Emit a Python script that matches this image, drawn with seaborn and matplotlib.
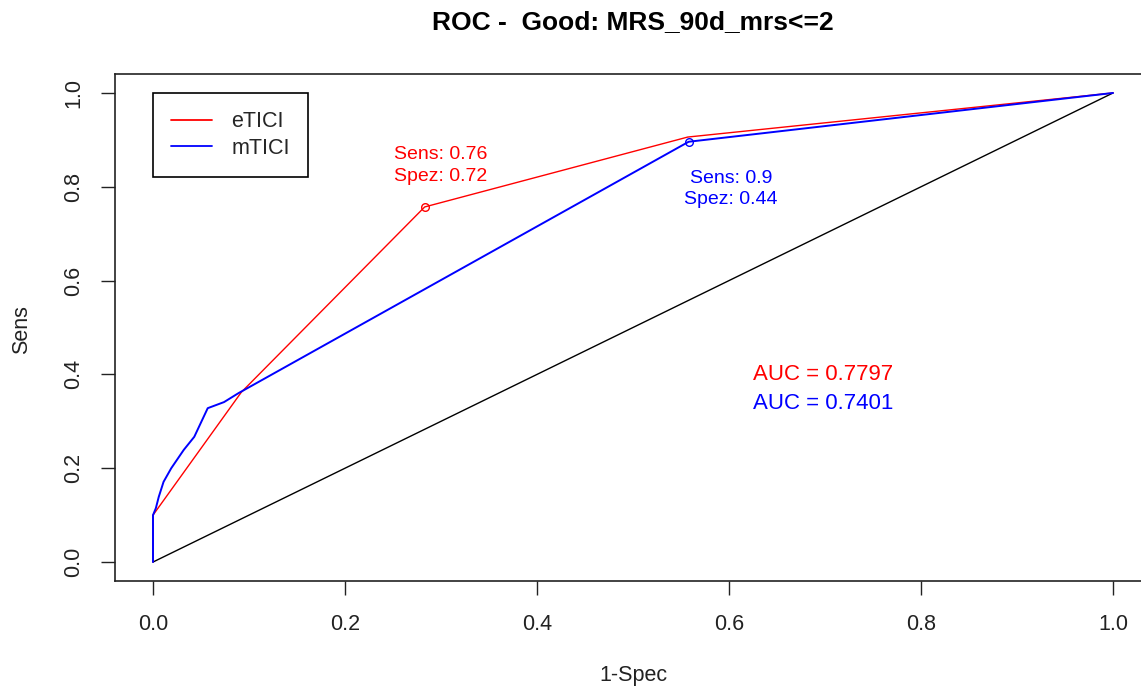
import matplotlib
matplotlib.use("Agg")
import matplotlib.pyplot as plt
import seaborn as sns
import pandas as pd

# ---- data ----
etici_fpr = [0.0, 0.0, 0.092, 0.283, 0.557, 1.0]
etici_tpr = [0.0, 0.1, 0.362, 0.757, 0.906, 1.0]
mtici_fpr = [0.0, 0.0, 0.003, 0.006, 0.011, 0.019, 0.032, 0.043, 0.057, 0.074, 0.089, 0.558, 1.0]
mtici_tpr = [0.0, 0.1, 0.115, 0.139, 0.171, 0.200, 0.239, 0.267, 0.328, 0.341, 0.360, 0.896, 1.0]
chance_x = [0.0, 1.0]
chance_y = [0.0, 1.0]
best_fpr = [0.283, 0.558]
best_tpr = [0.757, 0.896]
best_labels = ["Sens: 0.76\nSpez: 0.72", "Sens: 0.9\nSpez: 0.44"]
auc_labels = ["AUC = 0.7797", "AUC = 0.7401"]
series_names = ["eTICI", "mTICI"]
title = "ROC -  Good: MRS_90d_mrs<=2"
xticks = [0.0, 0.2, 0.4, 0.6, 0.8, 1.0]
yticks = [0.0, 0.2, 0.4, 0.6, 0.8, 1.0]

sns.set_style("ticks")
plt.rcParams["font.family"] = ["Liberation Sans", "DejaVu Sans"]

W, H = 1141, 691
fig = plt.figure(figsize=(W / 100, H / 100), dpi=100)
# axes frame in pixels: x from 114.6 to 1151.4, y from 74.2 to 580.8
ax = fig.add_axes([114.6 / W, (H - 580.8) / H, 1036.8 / W, 506.6 / H])

df_e = pd.DataFrame({"fpr": etici_fpr, "tpr": etici_tpr})
df_m = pd.DataFrame({"fpr": mtici_fpr, "tpr": mtici_tpr})
df_c = pd.DataFrame({"fpr": chance_x, "tpr": chance_y})

sns.lineplot(data=df_c, x="fpr", y="tpr", sort=False, estimator=None, color="black",
             linewidth=1.0, ax=ax, legend=False)
sns.lineplot(data=df_e, x="fpr", y="tpr", sort=False, estimator=None, color="#FF0000",
             linewidth=1.0, ax=ax, label=series_names[0])
sns.lineplot(data=df_m, x="fpr", y="tpr", sort=False, estimator=None, color="#0000FF",
             linewidth=1.4, ax=ax, label=series_names[1])

colors = ["#FF0000", "#0000FF"]
for i in range(2):
    ax.plot([best_fpr[i]], [best_tpr[i]], marker="o", markersize=5.5, markerfacecolor="none",
            markeredgecolor=colors[i], markeredgewidth=1.0, linestyle="none")

ax.text(0.300, 0.845, best_labels[0], color=colors[0], fontsize=14, ha="center", va="center",
        linespacing=1.35)
ax.text(0.602, 0.795, best_labels[1], color=colors[1], fontsize=14, ha="center", va="center",
        linespacing=1.35)

ax.text(0.698, 0.399, auc_labels[0], color=colors[0], fontsize=16, ha="center", va="center")
ax.text(0.698, 0.339, auc_labels[1], color=colors[1], fontsize=16, ha="center", va="center")

ax.set_xlim(-0.04, 1.04)
ax.set_ylim(-0.04, 1.04)
ax.set_xticks(xticks)
ax.set_yticks(yticks)
ax.set_xticklabels([f"{v:.1f}" for v in xticks])
ax.set_yticklabels([f"{v:.1f}" for v in yticks], rotation=90, va="center")
ax.tick_params(axis="both", direction="out", length=10, width=1.0, color="#222222",
               labelsize=15.5, labelcolor="#222222")
ax.tick_params(axis="x", pad=14)
ax.tick_params(axis="y", pad=12)
ax.set_xlabel("")
ax.set_ylabel("")
for sp in ax.spines.values():
    sp.set_visible(True)
    sp.set_color("#222222")
    sp.set_linewidth(1.2)

leg = ax.legend(loc="upper left", bbox_to_anchor=(0.0, 1.0), bbox_transform=ax.transData,
                borderaxespad=0, fontsize=15.5, frameon=True, fancybox=False, framealpha=1,
                edgecolor="black", handlelength=1.9, handletextpad=0.9, borderpad=0.85,
                labelspacing=0.25)
leg.get_frame().set_linewidth(1.2)
for h in leg.get_lines():
    h.set_linewidth(1.3)

fig.text(633 / W, 1 - 22 / H, title, ha="center", va="center", fontsize=19,
         fontweight="bold", color="black")
fig.text(633 / W, 1 - 676 / H, "1-Spec", ha="center", va="center", fontsize=15.5, color="#222222")
fig.text(22 / W, 1 - 330 / H, "Sens", ha="center", va="center", fontsize=15.5, rotation=90,
         color="#222222")

fig.savefig("out.png", dpi=100)
